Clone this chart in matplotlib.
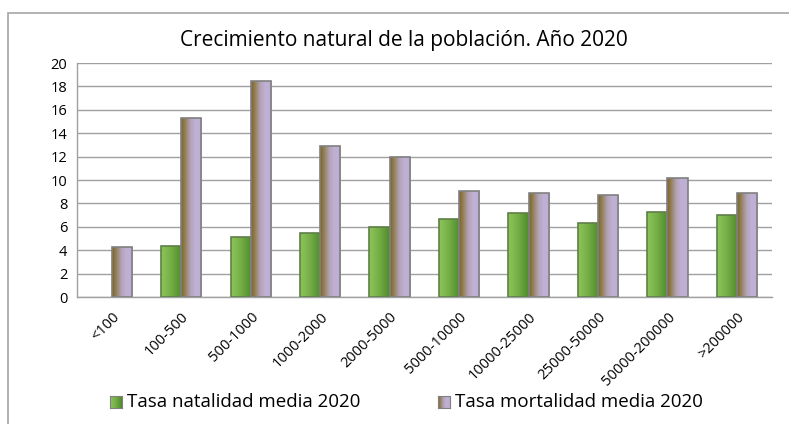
import matplotlib
matplotlib.use('Agg')
import numpy as np
import matplotlib.pyplot as plt
from matplotlib.colors import LinearSegmentedColormap
from matplotlib.patches import Rectangle

# Datos
categorias = ["<100", "100-500", "500-1000", "1000-2000", "2000-5000",
              "5000-10000", "10000-25000", "25000-50000", "50000-200000", ">200000"]
natalidad = [0, 4.4, 5.15, 5.5, 5.95, 6.7, 7.15, 6.35, 7.3, 7.0]
mortalidad = [4.3, 15.3, 18.5, 12.9, 11.95, 9.1, 8.85, 8.75, 10.2, 8.85]

plt.rcParams['font.family'] = ['Open Sans', 'DejaVu Sans']

fig = plt.figure(figsize=(7.89, 4.24), dpi=100)
ax = fig.add_axes([0.0976, 0.2995, 0.8804, 0.5519])

# Marco exterior
fig.patches.append(Rectangle((8 / 789, -0.1), 1.2, 1 - 13 / 424 + 0.1,
                             transform=fig.transFigure, fill=False,
                             edgecolor="#a6a6a6", linewidth=1.2))

cmap_verde = LinearSegmentedColormap.from_list(
    "verde", ["#8cc65a", "#74ad45", "#4f8a2c"])
cmap_morado = LinearSegmentedColormap.from_list(
    "morado", [(0, "#7f6328"), (0.15, "#8f7a4a"), (0.45, "#b3a3b7"),
               (0.7, "#c0b0d6"), (1, "#bcaed3")])

x = np.arange(len(categorias))
w = 0.29
grad = np.linspace(0, 1, 64).reshape(1, -1)


def barras_gradiente(xs, vals, cmap, borde):
    bars = ax.bar(xs, vals, width=w, facecolor="none", edgecolor=borde,
                  linewidth=1.2, zorder=3)
    for b in bars:
        if b.get_height() <= 0:
            b.set_visible(False)
            continue
        x0, y0 = b.get_x(), b.get_y()
        im = ax.imshow(grad, cmap=cmap, aspect="auto",
                       extent=(x0, x0 + b.get_width(), y0, y0 + b.get_height()),
                       zorder=2)
        im.set_clip_path(b)
    return bars


barras_gradiente(x - w / 2, natalidad, cmap_verde, "#5e7f48")
barras_gradiente(x + w / 2, mortalidad, cmap_morado, "#808080")

ax.set_xlim(-0.5, len(categorias) - 0.5)
ax.set_ylim(0, 20)
ax.set_yticks(np.arange(0, 21, 2))
ax.yaxis.grid(True, color="#a0a0a0", linewidth=1)
ax.set_axisbelow(True)
ax.tick_params(axis="both", length=0, colors="#000000")
ax.tick_params(axis="y", pad=7, labelsize=10.5)
ax.tick_params(axis="x", pad=9, labelsize=10.5)
ax.set_xticks(x)
ax.set_xticklabels(categorias, rotation=45, ha="right", va="top",
                   rotation_mode="anchor")
for s in ["top", "right"]:
    ax.spines[s].set_visible(False)
for s in ["left", "bottom"]:
    ax.spines[s].set_color("#a0a0a0")
    ax.spines[s].set_linewidth(1)

fig.text(0.512, 0.905, "Crecimiento natural de la población. Año 2020",
         ha="center", va="center", fontsize=15)

# Leyenda con gradiente
for lx, cmap, texto in [(110, cmap_verde, "Tasa natalidad media 2020"),
                        (438, cmap_morado, "Tasa mortalidad media 2020")]:
    lax = fig.add_axes([lx / 789, 1 - 408 / 424, 12 / 789, 12 / 424])
    lax.imshow(grad, cmap=cmap, aspect="auto")
    lax.set_xticks([])
    lax.set_yticks([])
    for s in lax.spines.values():
        s.set_color("#808080")
    fig.text((lx + 17) / 789, 1 - 402 / 424, texto, ha="left", va="center",
             fontsize=13.5)

fig.savefig("out.png", dpi=100)
